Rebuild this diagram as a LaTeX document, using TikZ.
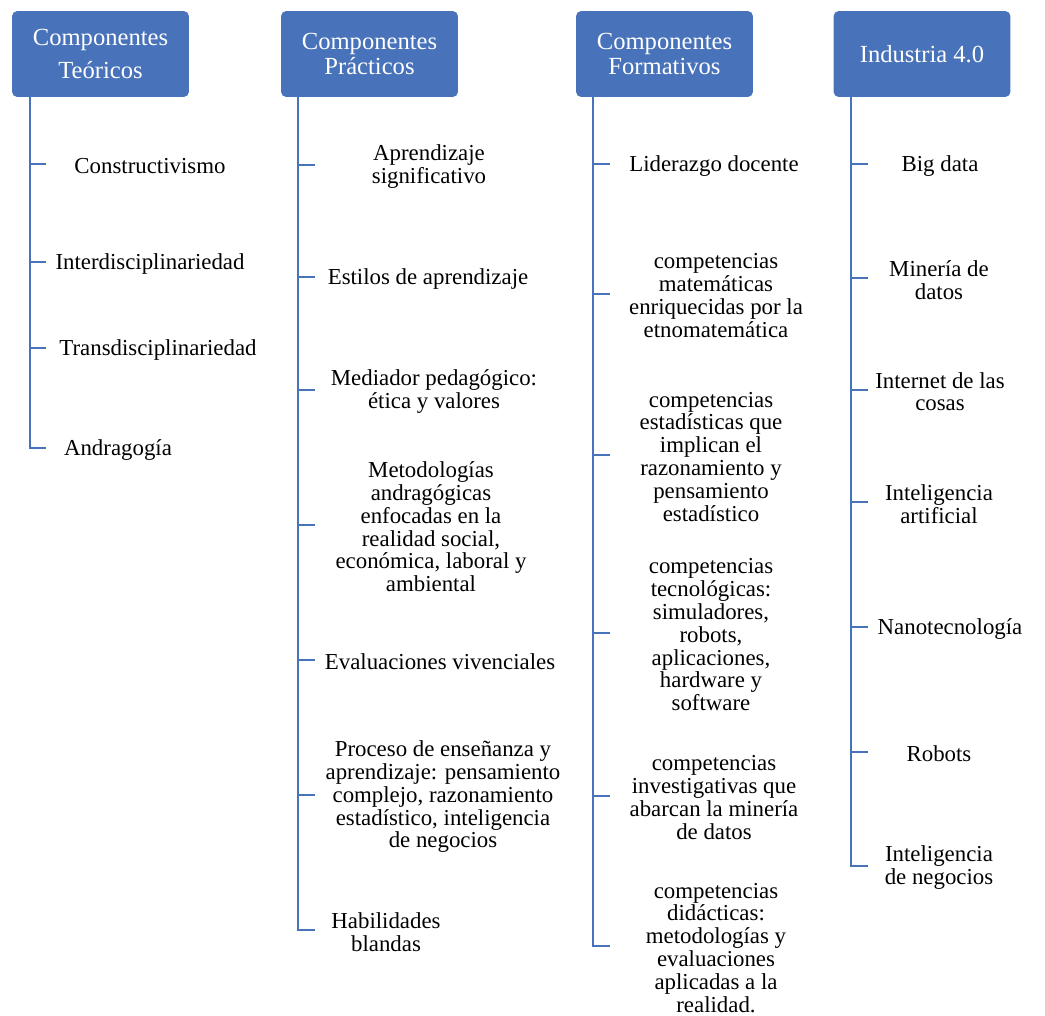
\documentclass[tikz,border=0pt]{standalone}
\usepackage{fontspec}
\setmainfont{Liberation Serif}
\usetikzlibrary{positioning}
\definecolor{compBlue}{RGB}{72,114,185}

\begin{document}
\begin{tikzpicture}[x=0.02cm,y=-0.02cm,
    header/.style={fill=compBlue,rounded corners=3pt,minimum width=3.54cm,
      minimum height=1.72cm,text=white,align=center,
      font=\fontsize{14}{14}\selectfont},
    item/.style={align=center,inner sep=0pt,yshift=-1pt,font=\fontsize{13}{13}\selectfont},
    branch/.style={compBlue,line width=1.2pt}]
    \useasboundingbox (0,0) rectangle (1045,1015);
    \fill[white] (0,0) rectangle (1045,1015);
    % headers
    \node[header] (teo) at (100.5,54) {Componentes\\[5pt]Teóricos};
    \node[header] (pra) at (369.5,54) {Componentes\\Prácticos};
    \node[header] (for) at (664.5,54) {Componentes\\Formativos};
    \node[header] (ind) at (922,54)   {Industria 4.0};
    \coordinate (teoTop) at (30,97);
    \coordinate (praTop) at (298,97);
    \coordinate (forTop) at (593,97);
    \coordinate (indTop) at (851,97);
    % teoricos
    \foreach[count=\i] \y/\x/\txt in {164/150/Constructivismo,262/150/Interdisciplinariedad,
                       348/158/Transdisciplinariedad,448/118/Andragogía}
      {\node[item] (teo\i) at (\x,\y) {\txt};
       \coordinate (teoTick\i) at (46,\y);}
    \draw[branch] (teoTop) |- (teoTick4);
    \foreach \i in {1,...,3}
      {\draw[branch] (teoTick\i -| teoTop) -- (teoTick\i);}
    % practicos
    \foreach[count=\i] \y/\x/\txt in {165/429/{Aprendizaje\\significativo},
                       277/428/{Estilos de aprendizaje},
                       390/434/{Mediador pedagógico:\\ética y valores},
                       525/431/{Metodologías\\andragógicas\\enfocadas en la\\realidad social,\\económica, laboral y\\ambiental},
                       660/440/{Evaluaciones vivenciales},
                       795/443/{Proceso de enseñanza y\\aprendizaje: pensamiento\\complejo, razonamiento\\estadístico, inteligencia\\de negocios},
                       930/386/{Habilidades\\blandas}}
      {\node[item] (pra\i) at (\x,\y) {\txt};
       \coordinate (praTick\i) at (315,\y);}
    \draw[branch] (praTop) |- (praTick7);
    \foreach \i in {1,...,6}
      {\draw[branch] (praTick\i -| praTop) -- (praTick\i);}
    % formativos
    \foreach[count=\i] \y/\x/\txt in {164/714/{Liderazgo docente},
                       294/716/{competencias\\matemáticas\\enriquecidas por la\\etnomatemática},
                       455/711/{competencias\\estadísticas que\\implican el\\razonamiento y\\pensamiento\\estadístico},
                       633/711/{competencias\\tecnológicas:\\simuladores,\\robots,\\aplicaciones,\\hardware y\\software},
                       796/714/{competencias\\investigativas que\\abarcan la minería\\de datos},
                       946/716/{competencias\\didácticas:\\metodologías y\\evaluaciones\\aplicadas a la\\realidad.}}
      {\node[item] (for\i) at (\x,\y) {\txt};
       \coordinate (forTick\i) at (610,\y);}
    \draw[branch] (forTop) |- (forTick6);
    \foreach \i in {1,...,5}
      {\draw[branch] (forTick\i -| forTop) -- (forTick\i);}
    % industria 4.0
    \foreach[count=\i] \y/\x/\txt in {164/940/{Big data},278/939/{Minería de\\datos},
                       390/940/{Internet de las\\cosas},502/939/{Inteligencia\\artificial},
                       627/950/Nanotecnología,752/939/Robots,
                       866/939/{Inteligencia\\de negocios}}
      {\node[item] (ind\i) at (\x,\y) {\txt};
       \coordinate (indTick\i) at (868,\y);}
    \draw[branch] (indTop) |- (indTick7);
    \foreach \i in {1,...,6}
      {\draw[branch] (indTick\i -| indTop) -- (indTick\i);}
  \end{tikzpicture}
\end{document}
